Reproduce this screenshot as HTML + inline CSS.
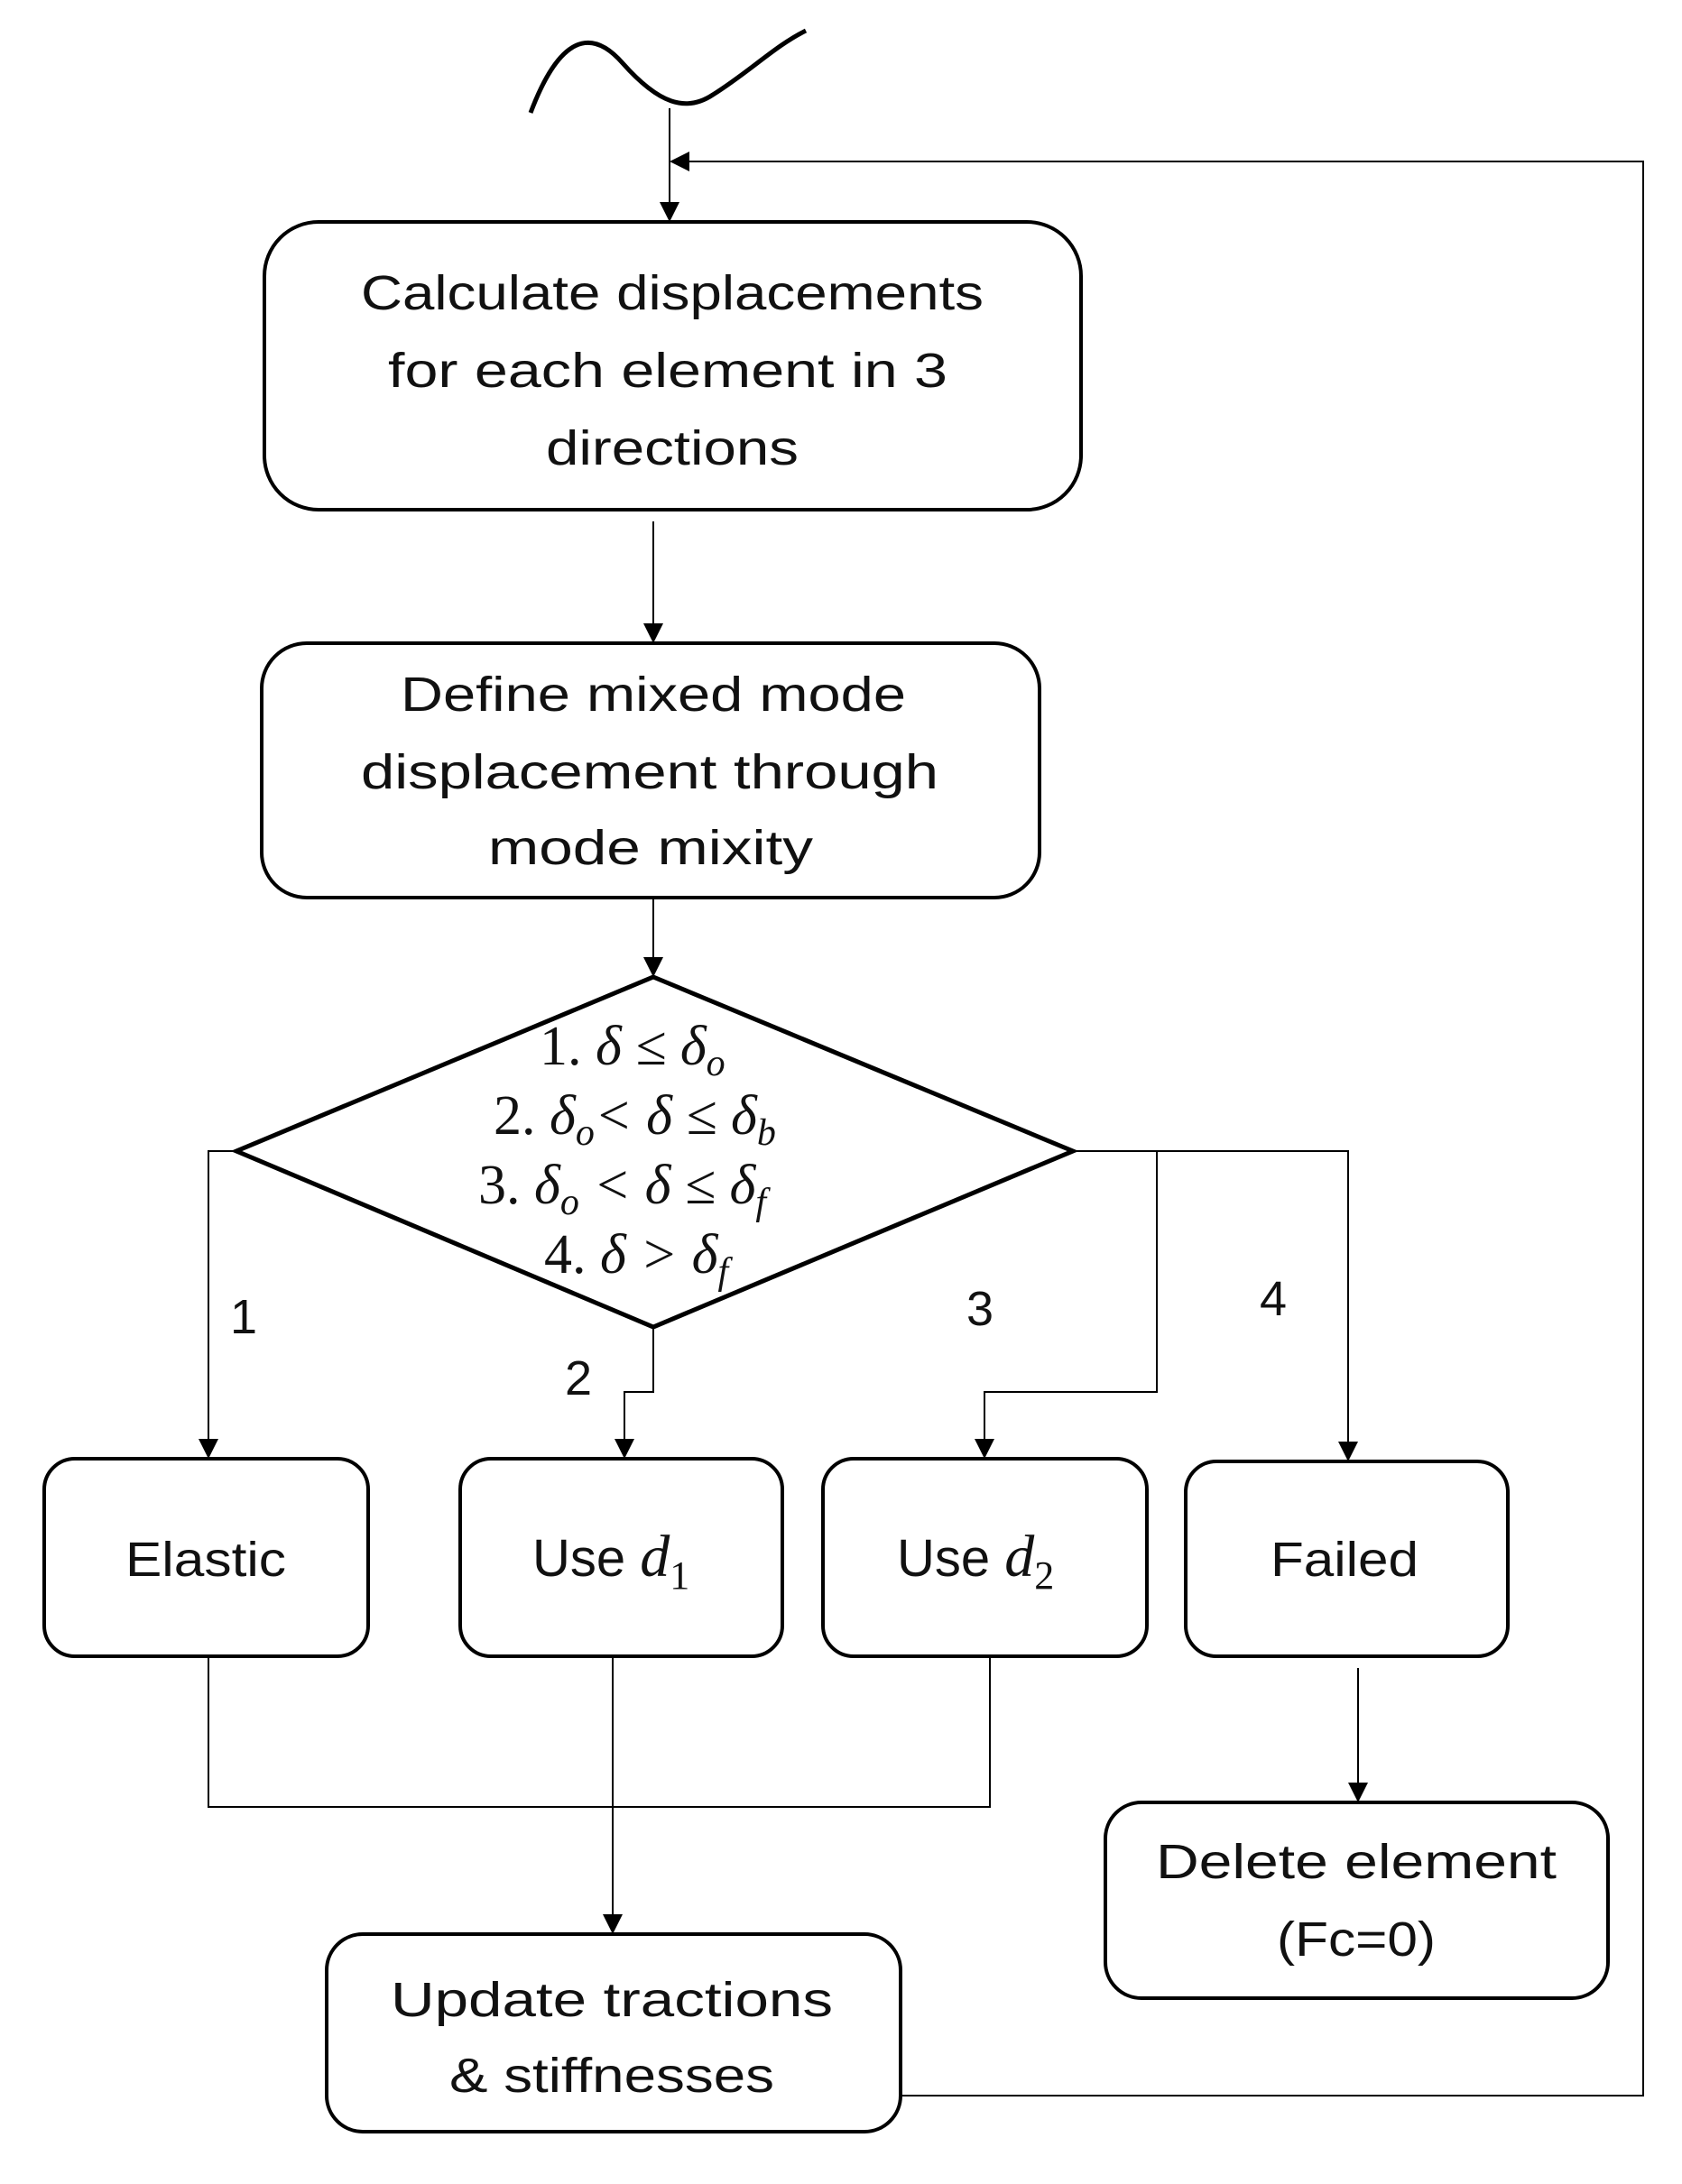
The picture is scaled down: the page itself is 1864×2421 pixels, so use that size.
<!DOCTYPE html>
<html><head><meta charset="utf-8"><style>html,body{margin:0;padding:0;background:#fff}svg{display:block}</style></head>
<body>
<svg width="1864" height="2421" viewBox="0 0 1864 2421" xmlns="http://www.w3.org/2000/svg">
<defs>
<marker id="ahb" markerWidth="22" markerHeight="22" refX="20" refY="11" orient="auto" markerUnits="userSpaceOnUse">
<path d="M0,0 L22,11 L0,22 z" fill="#000"/>
</marker>
</defs>
<g fill="none" stroke="#000">
<path d="M588,125 C620,40 655,30 690,70 C730,115 760,125 790,105 C830,80 860,50 893,34" stroke-width="5"/>
<line x1="742" y1="120" x2="742" y2="244" stroke-width="2" marker-end="url(#ahb)"/>
<polyline points="998,2323 1821,2323 1821,179 744,179" stroke-width="2" marker-end="url(#ahb)"/>
<rect x="293" y="246" width="905" height="319" rx="60" stroke-width="4"/>
<line x1="724" y1="578" x2="724" y2="711" stroke-width="2" marker-end="url(#ahb)"/>
<rect x="290" y="713" width="862" height="282" rx="50" stroke-width="4"/>
<line x1="724" y1="995" x2="724" y2="1081" stroke-width="2" marker-end="url(#ahb)"/>
<polygon points="724,1083 1189,1276 724,1471 262,1276" stroke-width="5"/>
<polyline points="262,1276 231,1276 231,1615" stroke-width="2" marker-end="url(#ahb)"/>
<polyline points="724,1471 724,1543 692,1543 692,1615" stroke-width="2" marker-end="url(#ahb)"/>
<polyline points="1189,1276 1494,1276 1494,1618" stroke-width="2" marker-end="url(#ahb)"/>
<polyline points="1282,1276 1282,1543 1091,1543 1091,1615" stroke-width="2" marker-end="url(#ahb)"/>
<rect x="49" y="1617" width="359" height="219" rx="34" stroke-width="4"/>
<rect x="510" y="1617" width="357" height="219" rx="34" stroke-width="4"/>
<rect x="912" y="1617" width="359" height="219" rx="34" stroke-width="4"/>
<rect x="1314" y="1620" width="357" height="216" rx="34" stroke-width="4"/>
<polyline points="231,1836 231,2003 1097,2003 1097,1836" stroke-width="2"/>
<line x1="679" y1="1836" x2="679" y2="2142" stroke-width="2" marker-end="url(#ahb)"/>
<line x1="1505" y1="1849" x2="1505" y2="1996" stroke-width="2" marker-end="url(#ahb)"/>
<rect x="1225" y="1998" width="557" height="217" rx="40" stroke-width="4"/>
<rect x="362" y="2144" width="636" height="219" rx="40" stroke-width="4"/>
</g>
<g font-family="Liberation Sans, sans-serif" font-size="54" fill="#111" text-anchor="middle">
<text x="745" y="343" textLength="690" lengthAdjust="spacingAndGlyphs">Calculate displacements</text>
<text x="740" y="429" textLength="620" lengthAdjust="spacingAndGlyphs">for each element  in 3</text>
<text x="745" y="515" textLength="280" lengthAdjust="spacingAndGlyphs">directions</text>
<text x="724" y="788" textLength="560" lengthAdjust="spacingAndGlyphs">Define mixed mode</text>
<text x="720" y="874" textLength="640" lengthAdjust="spacingAndGlyphs">displacement through</text>
<text x="721" y="958" textLength="360" lengthAdjust="spacingAndGlyphs">mode mixity</text>
<text x="228" y="1747" textLength="178" lengthAdjust="spacingAndGlyphs">Elastic</text>
<text x="1490" y="1747" textLength="164" lengthAdjust="spacingAndGlyphs">Failed</text>
<text x="1503" y="2082" textLength="444" lengthAdjust="spacingAndGlyphs">Delete element</text>
<text x="1503" y="2168" textLength="176" lengthAdjust="spacingAndGlyphs">(Fc=0)</text>
<text x="678" y="2235" textLength="490" lengthAdjust="spacingAndGlyphs">Update tractions</text>
<text x="678" y="2319" textLength="360" lengthAdjust="spacingAndGlyphs">&amp; stiffnesses</text>
<text x="270" y="1478">1</text>
<text x="641" y="1546">2</text>
<text x="1086" y="1469">3</text>
<text x="1411" y="1458">4</text>
</g>
<g font-family="Liberation Sans, sans-serif" font-size="58" fill="#111">
<text x="590" y="1747">Use <tspan font-family="Liberation Serif, serif" font-style="italic" font-size="66">d</tspan><tspan font-family="Liberation Serif, serif" font-size="44" dy="14">1</tspan></text>
<text x="994" y="1747">Use <tspan font-family="Liberation Serif, serif" font-style="italic" font-size="66">d</tspan><tspan font-family="Liberation Serif, serif" font-size="44" dy="14">2</tspan></text>
</g>
<g font-family="Liberation Serif, serif" font-size="62" fill="#111">
<text x="598" y="1180">1. <tspan font-style="italic">δ ≤ δ</tspan><tspan font-style="italic" font-size="42" dy="12">o</tspan></text>
<text x="547" y="1257">2. <tspan font-style="italic">δ</tspan><tspan font-style="italic" font-size="42" dy="12">o</tspan><tspan dy="-12" font-style="italic">&lt; δ ≤ δ</tspan><tspan font-style="italic" font-size="42" dy="12">b</tspan></text>
<text x="530" y="1334">3. <tspan font-style="italic">δ</tspan><tspan font-style="italic" font-size="42" dy="12">o</tspan><tspan dy="-12" font-style="italic"> &lt; δ ≤ δ</tspan><tspan font-style="italic" font-size="42" dy="12">f</tspan></text>
<text x="603" y="1411">4. <tspan font-style="italic">δ &gt; δ</tspan><tspan font-style="italic" font-size="42" dy="12">f</tspan></text>
</g>
</svg>
</body></html>
